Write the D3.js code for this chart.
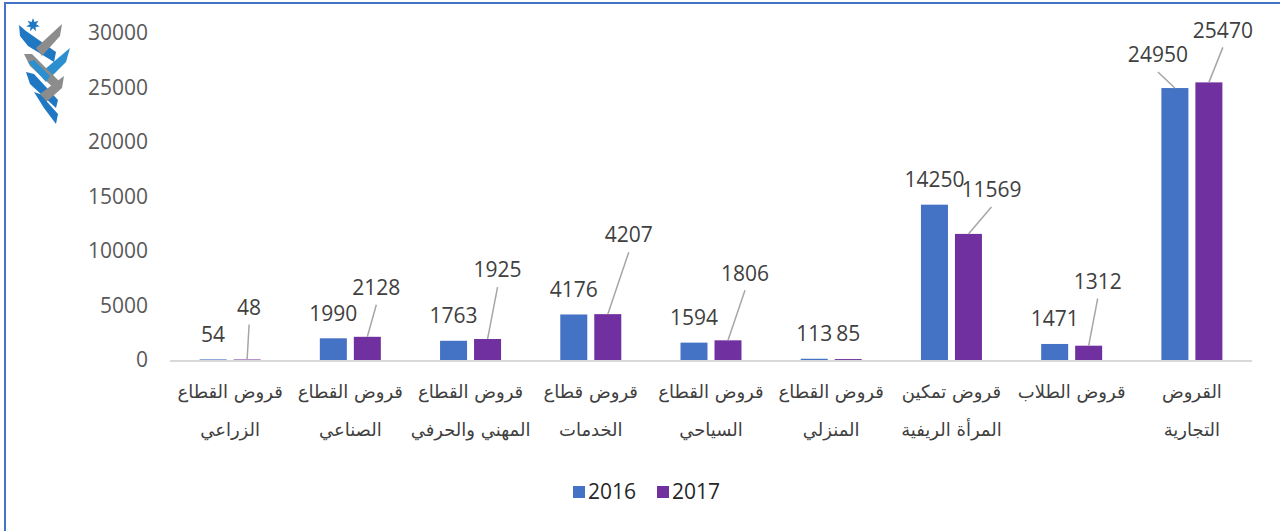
<!DOCTYPE html>
<html lang="ar">
<head>
<meta charset="UTF-8">
<title>Loans chart</title>
<script src="https://d3js.org/d3.v7.min.js"></script>
<style>
  body { margin: 0; background: #fff; }
  svg { display: block; font-family: 'Open Sans', 'DejaVu Sans', sans-serif; }
</style>
</head>
<body>
<svg id="chart" width="1280" height="531"></svg>
<script>
// data
const categories = [
  "قروض القطاع\nالزراعي",
  "قروض القطاع\nالصناعي",
  "قروض القطاع\nالمهني والحرفي",
  "قروض قطاع\nالخدمات",
  "قروض القطاع\nالسياحي",
  "قروض القطاع\nالمنزلي",
  "قروض تمكين\nالمرأة الريفية",
  "قروض الطلاب",
  "القروض\nالتجارية"
];
const years = ["2016", "2017"];
const values2016 = [54, 1990, 1763, 4176, 1594, 113, 14250, 1471, 24950];
const values2017 = [48, 2128, 1925, 4207, 1806, 85, 11569, 1312, 25470];
const yTicks = [0, 5000, 10000, 15000, 20000, 25000, 30000];

// label nudges (px) where the labels were dragged off their default spot
const nudge2016 = [[0,0],[0,0],[0,0],[0,0],[0,0],[0,0],[0,0],[0,0],[-17,-8]];
const nudge2017 = [[2,-27],[9,-24],[10,-44],[21,-54],[17,-42],[0,0],[23,-19],[9,-39],[14,-27]];

const colors = { "2016": "#4472c4", "2017": "#7030a0" };

const svg = d3.select("#chart");

// outer frame
svg.append("rect")
  .attr("x", 5).attr("y", 3).attr("width", 1400).attr("height", 700)
  .attr("fill", "none").attr("stroke", "#4472c4").attr("stroke-width", 2);

// logo (rough)
const logo = svg.append("g");
const star = d3.range(14).map(i => {
  const a = -Math.PI / 2 + i * Math.PI / 7;
  const r = i % 2 ? 3.2 : 7;
  return [33 + r * Math.cos(a), 25 + r * Math.sin(a)];
});
logo.append("polygon").attr("points", star.join(" ")).attr("fill", "#1f78c1");
const bands = [
  { c: "#1f78c1", p: [[19,25],[26,31],[56,52],[54,62],[28,46],[20,36]] },
  { c: "#8c8c8c", p: [[62,24],[60,36],[42,56],[36,48]] },
  { c: "#2b8fd0", p: [[70,48],[66,62],[48,80],[44,70]] },
  { c: "#8c8c8c", p: [[24,54],[32,54],[60,82],[58,92],[30,66]] },
  { c: "#1f78c1", p: [[26,72],[34,74],[58,100],[56,108],[30,84]] },
  { c: "#8c8c8c", p: [[64,76],[62,88],[44,104],[40,94]] },
  { c: "#1f78c1", p: [[34,92],[40,94],[58,114],[56,124],[44,108]] },
  { c: "#2b8fd0", p: [[28,62],[34,60],[50,76],[46,82]] }
];
bands.forEach(b => logo.append("polygon").attr("points", b.p.join(" ")).attr("fill", b.c));

// scales
const y = d3.scaleLinear().domain([0, 30000]).range([360, 33]);
const x0 = d3.scaleBand().domain(d3.range(categories.length)).range([170, 1252]);
const x1 = d3.scaleBand().domain(years)
  .range([(x0.bandwidth() - 61) / 2, (x0.bandwidth() + 61) / 2])
  .paddingInner(7 / 34);

// y axis labels
const yAxis = svg.append("g").attr("transform", "translate(148,0)")
  .call(d3.axisLeft(y).tickValues(yTicks).tickSize(0).tickPadding(0).tickFormat(d3.format("d")));
yAxis.select(".domain").remove();
yAxis.selectAll("text")
  .attr("fill", "#595959").attr("font-size", 21)
  .attr("font-family", "'Open Sans', sans-serif");

// bars
const rows = categories.map((c, i) => ({
  i,
  vals: [
    { year: "2016", v: values2016[i], nudge: nudge2016[i] },
    { year: "2017", v: values2017[i], nudge: nudge2017[i] }
  ]
}));

const groups = svg.append("g").selectAll("g")
  .data(rows).join("g")
  .attr("transform", d => `translate(${x0(d.i)},0)`);

groups.selectAll("rect")
  .data(d => d.vals).join("rect")
  .attr("x", d => x1(d.year))
  .attr("y", d => y(d.v))
  .attr("width", x1.bandwidth())
  .attr("height", d => y(0) - y(d.v))
  .attr("fill", d => colors[d.year]);

// baseline
svg.append("line")
  .attr("x1", x0.range()[0]).attr("x2", x0.range()[1])
  .attr("y1", y(0) + 1).attr("y2", y(0) + 1)
  .attr("stroke", "#d9d9d9").attr("stroke-width", 2);

// value labels + leader lines
groups.each(function (d) {
  const g = d3.select(this);
  d.vals.forEach(v => {
    const bx = x1(v.year) + x1.bandwidth() / 2;
    const by = y(v.v);
    const lx = bx + v.nudge[0];
    const ly = by - 25 + v.nudge[1];
    if (v.nudge[0] !== 0 || v.nudge[1] !== 0) {
      g.append("line")
        .attr("x1", lx).attr("y1", ly + 17)
        .attr("x2", bx).attr("y2", by)
        .attr("stroke", "#a6a6a6").attr("stroke-width", 1.5);
    }
    g.append("text")
      .attr("x", lx).attr("y", ly)
      .attr("dy", "0.35em")
      .attr("text-anchor", "middle")
      .attr("font-size", 21)
      .attr("fill", "#404040")
      .text(v.v);
  });
});

// category labels
groups.append("text")
  .attr("x", x0.bandwidth() / 2)
  .attr("y", 392)
  .attr("text-anchor", "middle")
  .attr("direction", "rtl")
  .attr("font-size", 18)
  .attr("fill", "#404040")
  .attr("font-family", "'DejaVu Sans', sans-serif")
  .selectAll("tspan")
  .data(d => categories[d.i].split("\n"))
  .join("tspan")
  .attr("x", x0.bandwidth() / 2)
  .attr("dy", (t, j) => j === 0 ? "0.35em" : "2.1em")
  .text(t => t);

// legend
const legend = svg.append("g").attr("transform", "translate(573,492)");
years.forEach((yr, k) => {
  const lg = legend.append("g").attr("transform", `translate(${k * 84},0)`);
  lg.append("rect").attr("x", 0).attr("y", -6).attr("width", 12).attr("height", 12)
    .attr("fill", colors[yr]);
  lg.append("text").attr("x", 15).attr("y", 0).attr("dy", "0.35em")
    .attr("font-size", 21).attr("fill", "#262626").text(yr);
});
</script>
</body>
</html>
